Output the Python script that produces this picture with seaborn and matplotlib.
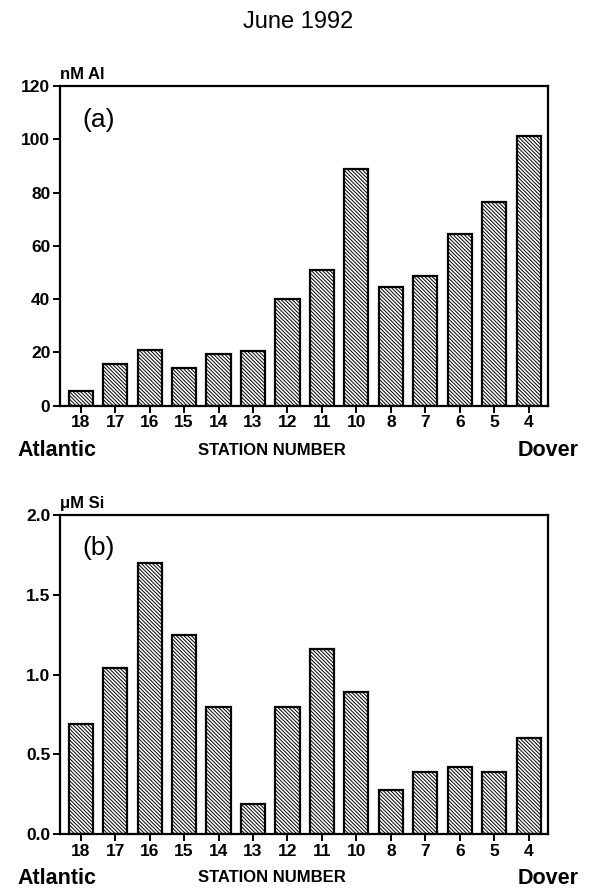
import matplotlib
matplotlib.use("Agg")
import matplotlib.pyplot as plt
import seaborn as sns
import pandas as pd

stations = ["18", "17", "16", "15", "14", "13", "12", "11", "10", "8", "7", "6", "5", "4"]
al_nM = [5.6, 15.6, 20.8, 14.0, 19.4, 20.6, 40.0, 50.9, 89.0, 44.4, 48.6, 64.6, 76.5, 101.1]
si_uM = [0.69, 1.04, 1.70, 1.25, 0.80, 0.19, 0.80, 1.16, 0.89, 0.28, 0.39, 0.42, 0.39, 0.60]

sns.set_theme(style="ticks")
plt.rcParams['font.family'] = ['Liberation Sans', 'DejaVu Sans']
plt.rcParams['font.weight'] = 'bold'
plt.rcParams['text.color'] = 'black'
plt.rcParams['hatch.linewidth'] = 0.7
plt.rcParams['hatch.color'] = 'black'

fig = plt.figure(figsize=(5.94, 8.90), dpi=100)

def panel(rect, values, ylim, yticks, yticklabels, unit, tag):
    ax = fig.add_axes(rect)
    df = pd.DataFrame({"station": stations, "value": values})
    sns.barplot(data=df, x="station", y="value", order=stations, ax=ax,
                color="white", edgecolor="black", linewidth=1.6, width=0.7,
                saturation=1)
    for p in ax.patches:
        p.set_hatch("\\" * 9)
    ax.set_xlim(-0.6, 13.55)
    ax.set_ylim(*ylim)
    ax.set_yticks(yticks)
    ax.set_yticklabels(yticklabels, fontsize=12.5, fontweight='bold', color='black')
    ax.set_xticks(range(len(stations)))
    ax.set_xticklabels(stations, fontsize=12.5, fontweight='bold', color='black')
    ax.set_xlabel("")
    ax.set_ylabel("")
    for s in ax.spines.values():
        s.set_visible(True)
        s.set_linewidth(1.6)
        s.set_color("black")
    ax.tick_params(axis='both', direction='out', length=5, width=1.4, colors='black', pad=2)
    ax.text(0.0, 1.012, unit, transform=ax.transAxes, fontsize=12, fontweight='bold',
            ha='left', va='bottom')
    ax.text(0.045, 0.895, tag, transform=ax.transAxes, fontsize=19, fontweight='normal',
            ha='left', va='center')
    return ax

ax1 = panel([0.101, 0.5442, 0.821, 0.3592], al_nM, (0, 120),
            [0, 20, 40, 60, 80, 100, 120], ["0", "20", "40", "60", "80", "100", "120"],
            "nM Al", "(a)")
ax2 = panel([0.101, 0.0626, 0.821, 0.3588], si_uM, (0, 2.0),
            [0, 0.5, 1.0, 1.5, 2.0], ["0.0", "0.5", "1.0", "1.5", "2.0"],
            "μM Si", "(b)")

for ax, ybase in ((ax1, 451), (ax2, 878)):
    yf = 1 - ybase / 890
    fig.text(17 / 594, yf, "Atlantic", fontsize=15.5, fontweight='bold', ha='left', va='center')
    fig.text(272 / 594, yf, "STATION NUMBER", fontsize=12, fontweight='bold', ha='center', va='center')
    fig.text(579 / 594, yf, "Dover", fontsize=15.5, fontweight='bold', ha='right', va='center')

fig.text(298 / 594, 1 - 22 / 890, "June 1992", fontsize=17, fontweight='normal', ha='center', va='center')

fig.savefig("out.png", dpi=100)
